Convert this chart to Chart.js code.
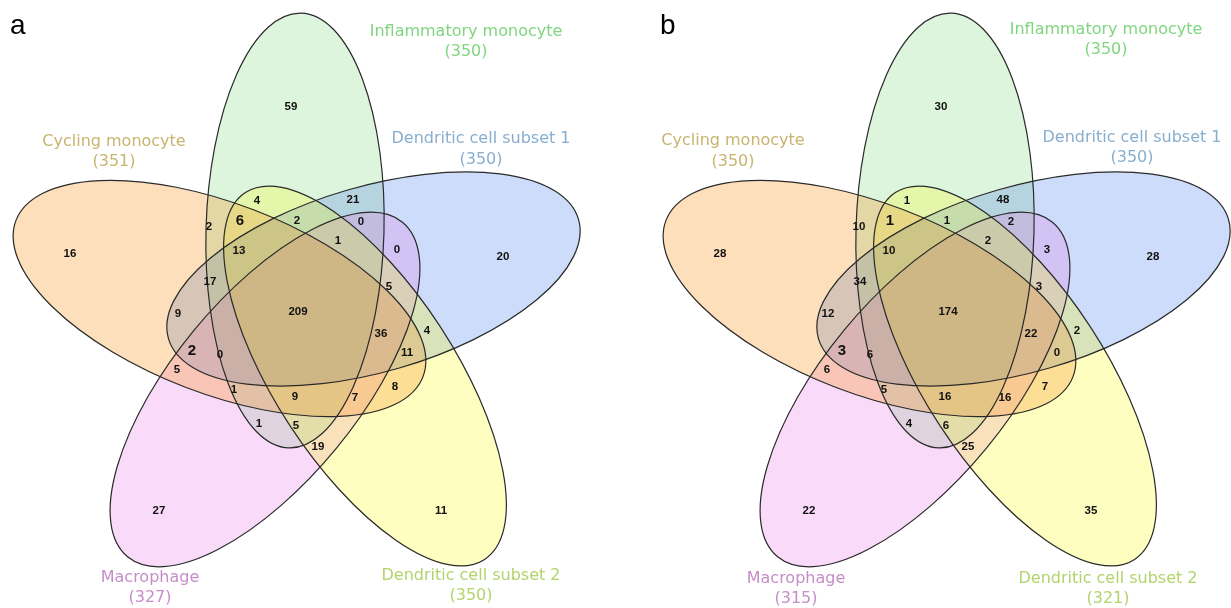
<!DOCTYPE html>
<html>
<head>
<meta charset="utf-8">
<script src="https://cdn.jsdelivr.net/npm/chart.js@4.4.0/dist/chart.umd.min.js"></script>
<style>
  body { margin: 0; background: #fff; }
  #wrap { position: relative; width: 1231px; height: 608px; }
  .panel { position: absolute; top: 0; height: 608px; }
  #panelA { left: 0; width: 650px; }
  #panelB { left: 650px; width: 581px; }
</style>
</head>
<body>
<div id="wrap">
  <div class="panel" id="panelA"><canvas id="vennA"></canvas></div>
  <div class="panel" id="panelB"><canvas id="vennB"></canvas></div>
</div>
<script>
// the five sets (same order is used for fills / names / sizes)
const setNames = ['Cycling monocyte', 'Inflammatory monocyte', 'Dendritic cell subset 1', 'Macrophage', 'Dendritic cell subset 2'];
const setSizesA = [351, 350, 350, 327, 350];
const setSizesB = [350, 350, 350, 315, 321];

// which sets each region belongs to (C, I, D1, M, D2)
const regionSets = [
    'I', 'D1', 'D2', 'M', 'C', 'C I D1 M D2',
    'I D2', 'I D1', 'C I', 'C I D2', 'I D1 D2', 'I D1 M', 'I D1 M D2', 'D1 M',
    'C I D1 D2', 'C I D1', 'D1 M D2', 'C D1', 'C D1 M D2', 'D1 D2', 'C D1 M',
    'C I D1 M', 'C D1 D2', 'C M', 'C I M', 'C I M D2', 'C M D2', 'C D2',
    'I M', 'I M D2', 'M D2'
];
const countsA = [59, 20, 11, 27, 16, 209, 4, 21, 2, 6, 2, 0, 1, 0, 13, 17, 5, 9, 36, 4, 2, 0, 11, 5, 1, 9, 7, 8, 1, 5, 19];
const countsB = [30, 28, 35, 22, 28, 174, 1, 48, 10, 1, 1, 2, 2, 3, 10, 34, 3, 12, 22, 2, 3, 6, 0, 6, 5, 16, 16, 7, 4, 6, 25];

// ---- layout (panel pixels, y downwards) ----
const regionLabelPos = [
    [291, 107], [503, 257], [441, 511], [159, 511], [70, 254], [298, 312],
    [257, 201], [353, 200], [209, 227], [240, 221], [297, 221], [361, 222], [338, 241], [397, 250],
    [239, 251], [210, 282], [389, 287], [178, 314], [381, 334], [427, 331], [192, 351],
    [220, 355], [407, 353], [177, 370], [234, 390], [295, 397], [355, 398], [395, 387],
    [259, 424], [296, 426], [318, 447]
];
const bigLabels = [9, 20];

const ellipseGeom = [
    { cx: 219.5, cy: 298.5, rMinor: 95, rMajor: 218, rot: 21 },
    { cx: 295, cy: 230.5, rMinor: 89, rMajor: 217.5, rot: -88.4 },
    { cx: 373.5, cy: 279, rMinor: 92.7, rMajor: 213.5, rot: -16.2 },
    { cx: 265, cy: 389.5, rMinor: 92.5, rMajor: 216.5, rot: -50.6 },
    { cx: 365, cy: 376, rMinor: 90, rMajor: 219, rot: 56.9 }
];
// colour of each set where it stands alone
const setFills = ['#fddfbb', '#dcf5dc', '#cddcfa', '#f9dbf9', '#fefec0'];
// the same colours as 50% washes (used for the blended overlaps)
const setWashes = ['rgba(251,191,119,0.5)', 'rgba(185,235,185,0.5)', 'rgba(155,185,245,0.5)', 'rgba(243,183,243,0.5)', 'rgba(253,253,129,0.5)'];
const washOrder = [1, 2, 3, 4, 0];
const nameColors = ['#c8b46e', '#80d680', '#88aecf', '#c58ec9', '#b3d36b'];

// name label anchors: [x, y of name, y of size]
const nameLayoutA = [[114, 142, 162], [466, 32, 52], [481, 139, 160], [150, 578, 598], [471, 576, 596]];
const nameLayoutB = [[83, 141, 162], [456, 30, 50], [482, 138, 158], [146, 579, 599], [458, 579, 599]];

const vennPlugin = {
    id: 'venn',
    beforeDatasetsDraw(chart, args, opts) {
        const ctx = chart.ctx, xs = chart.scales.x, ys = chart.scales.y;
        const unit = Math.abs(xs.getPixelForValue(1) - xs.getPixelForValue(0));
        const path = (c, g) => {
            c.beginPath();
            c.ellipse(xs.getPixelForValue(g.cx), ys.getPixelForValue(g.cy),
                g.rMajor * unit, g.rMinor * unit, g.rot * Math.PI / 180, 0, Math.PI * 2);
        };

        // multiplied version on a scratch canvas
        const off = document.createElement('canvas');
        off.width = chart.canvas.width;
        off.height = chart.canvas.height;
        const o = off.getContext('2d');
        o.fillStyle = '#fff';
        o.fillRect(0, 0, off.width, off.height);
        o.globalCompositeOperation = 'multiply';
        ellipseGeom.forEach((g, i) => {
            path(o, g);
            o.fillStyle = setFills[i];
            o.fill();
        });

        ctx.save();
        ctx.fillStyle = '#fff';
        ctx.fillRect(0, 0, chart.width, chart.height);
        washOrder.forEach(i => {
            path(ctx, ellipseGeom[i]);
            ctx.fillStyle = setWashes[i];
            ctx.fill();
        });
        // mix the two halves
        ctx.globalAlpha = 0.5;
        ctx.drawImage(off, 0, 0, chart.width, chart.height);
        ctx.globalAlpha = 1;

        ctx.strokeStyle = '#2a2a2a';
        ctx.lineWidth = 1.2;
        ellipseGeom.forEach(g => {
            path(ctx, g);
            ctx.stroke();
        });
        ctx.restore();
    },
    afterDatasetsDraw(chart, args, opts) {
        const ctx = chart.ctx, xs = chart.scales.x, ys = chart.scales.y;
        const meta = chart.getDatasetMeta(0);
        ctx.save();
        ctx.textAlign = 'center';
        ctx.textBaseline = 'middle';
        ctx.fillStyle = '#111';
        meta.data.forEach((pt, i) => {
            const big = bigLabels.includes(i);
            ctx.font = big ? 'bold 15px "Liberation Sans", Arial' : 'bold 11.5px "Liberation Sans", Arial';
            ctx.fillText(chart.data.datasets[0].data[i].count, pt.x, pt.y);
        });

        ctx.font = '16px "DejaVu Sans", Verdana';
        opts.nameLayout.forEach((p, i) => {
            ctx.fillStyle = nameColors[i];
            ctx.fillText(setNames[i], xs.getPixelForValue(p[0]), ys.getPixelForValue(p[1]));
            ctx.fillText('(' + opts.sizes[i] + ')', xs.getPixelForValue(p[0]), ys.getPixelForValue(p[2]));
        });

        ctx.fillStyle = '#000';
        ctx.textAlign = 'left';
        ctx.textBaseline = 'alphabetic';
        ctx.font = '28px "Liberation Sans", Arial';
        ctx.fillText(opts.letter, xs.getPixelForValue(10), ys.getPixelForValue(34));
        ctx.restore();
    }
};

function makeVenn(canvasId, letter, counts, sizes, nameLayout, width) {
    const points = regionLabelPos.map((p, i) => ({ x: p[0], y: p[1], count: counts[i], sets: regionSets[i] }));
    new Chart(document.getElementById(canvasId), {
        type: 'scatter',
        data: { datasets: [{ data: points, pointRadius: 0, pointHoverRadius: 0 }] },
        options: {
            responsive: true,
            maintainAspectRatio: false,
            animation: false,
            events: [],
            layout: { padding: 0 },
            scales: {
                x: { type: 'linear', min: 0, max: width, display: false },
                y: { type: 'linear', min: 0, max: 608, reverse: true, display: false }
            },
            plugins: {
                legend: { display: false },
                tooltip: { enabled: false },
                venn: { letter: letter, sizes: sizes, nameLayout: nameLayout }
            }
        },
        plugins: [vennPlugin]
    });
}

makeVenn('vennA', 'a', countsA, setSizesA, nameLayoutA, 650);
makeVenn('vennB', 'b', countsB, setSizesB, nameLayoutB, 581);
</script>
</body>
</html>
